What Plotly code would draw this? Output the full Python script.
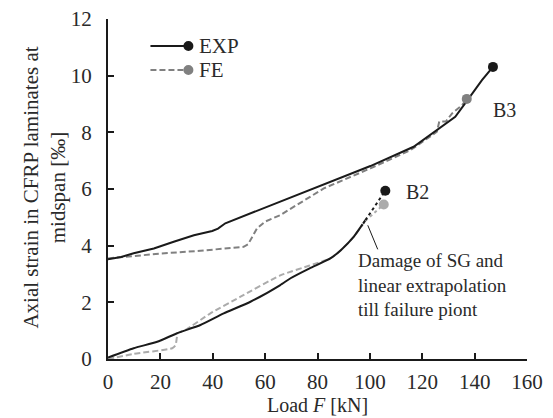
import plotly.graph_objects as go

# ---- data ----
b3_exp_F = [0, 5, 9.8, 17.5, 25.1, 32.8, 39.8, 42, 44.8, 54.4, 65.8, 82.4, 100.2, 116.7, 126.9, 132.6, 137.7, 142.8, 147]
b3_exp_s = [3.52, 3.6, 3.73, 3.90, 4.14, 4.37, 4.52, 4.6, 4.79, 5.14, 5.55, 6.18, 6.81, 7.49, 8.19, 8.55, 9.19, 9.84, 10.31]

b3_fe_F = [0, 9.8, 20, 35.3, 51.8, 53.5, 55, 56.9, 60, 65.8, 82.4, 100.2, 115.5, 125.6, 126.5, 129, 131.4, 135.2, 137]
b3_fe_s = [3.55, 3.64, 3.72, 3.82, 3.96, 4.05, 4.31, 4.61, 4.85, 5.08, 6.02, 6.73, 7.37, 8.02, 8.38, 8.38, 8.67, 8.96, 9.18]

b2_exp_F = [0, 9.8, 18.8, 26.4, 35.3, 44.2, 54.4, 65.8, 69.7, 77, 84.9, 89, 93.8, 98.3]
b2_exp_s = [0.05, 0.38, 0.61, 0.91, 1.20, 1.61, 2.02, 2.61, 2.85, 3.2, 3.55, 3.85, 4.31, 4.90]
b2_exp_ext_F = [98.3, 105.9]
b2_exp_ext_s = [4.90, 5.94]

b2_fe_F = [0, 9.8, 24.5, 25.8, 26.7, 30, 39.1, 50.6, 65.8, 77, 84.9, 89, 93.8, 98.3]
b2_fe_s = [0.0, 0.18, 0.38, 0.49, 0.91, 1.05, 1.61, 2.2, 2.95, 3.3, 3.55, 3.85, 4.31, 4.88]
b2_fe_ext_F = [98.3, 105.3]
b2_fe_ext_s = [4.88, 5.45]

damage_F = [98.3]
damage_s = [4.90]

x_ticks = [0, 20, 40, 60, 80, 100, 120, 140, 160]
y_ticks = [0, 2, 4, 6, 8, 10, 12]

BLACK = "#1a1a1a"
GRAY = "#808080"
LGRAY = "#ababab"
TXT = "#2a2a2a"
FONT = "Liberation Serif, Times New Roman, serif"

# plot-area geometry (pixels)
L, R, T, B = 107.5, 26, 19, 59
W, H = 553, 418
PW, PH = W - L - R, H - T - B


def px2paper_x(px):
    return (px - L) / PW


def px2paper_y(py):
    return (H - B - py) / PH


fig = go.Figure()

# B3
fig.add_trace(go.Scatter(x=b3_fe_F, y=b3_fe_s, mode="lines",
                         line=dict(color=GRAY, width=2, dash="6px,3px")))
fig.add_trace(go.Scatter(x=b3_exp_F, y=b3_exp_s, mode="lines",
                         line=dict(color=BLACK, width=2)))
fig.add_trace(go.Scatter(x=b3_fe_F[-1:], y=b3_fe_s[-1:], mode="markers",
                         marker=dict(color=GRAY, size=10)))
fig.add_trace(go.Scatter(x=b3_exp_F[-1:], y=b3_exp_s[-1:], mode="markers",
                         marker=dict(color=BLACK, size=10)))

# B2
fig.add_trace(go.Scatter(x=b2_fe_F, y=b2_fe_s, mode="lines", line_shape="spline",
                         line=dict(color=LGRAY, width=2, dash="6px,3px", smoothing=0.5)))
fig.add_trace(go.Scatter(x=b2_exp_F, y=b2_exp_s, mode="lines", line_shape="spline",
                         line=dict(color=BLACK, width=2, smoothing=0.5)))
fig.add_trace(go.Scatter(x=b2_fe_ext_F, y=b2_fe_ext_s, mode="lines",
                         line=dict(color=LGRAY, width=2, dash="dot")))
fig.add_trace(go.Scatter(x=b2_exp_ext_F, y=b2_exp_ext_s, mode="lines",
                         line=dict(color=BLACK, width=2, dash="dot")))
fig.add_trace(go.Scatter(x=b2_fe_ext_F[-1:], y=b2_fe_ext_s[-1:], mode="markers",
                         marker=dict(color=LGRAY, size=10)))
fig.add_trace(go.Scatter(x=b2_exp_ext_F[-1:], y=b2_exp_ext_s[-1:], mode="markers",
                         marker=dict(color=BLACK, size=10)))
fig.add_trace(go.Scatter(x=damage_F, y=damage_s, mode="markers",
                         marker=dict(color="white", size=9, symbol="circle-open",
                                     line=dict(color=BLACK, width=1.2))))

# leader line for the damage annotation
fig.add_shape(type="line", x0=99.2, y0=4.72, x1=103.0, y1=3.87,
              line=dict(color=BLACK, width=1))

fig.add_annotation(x=94.6, y=2.62, xanchor="left", yanchor="middle", align="left",
                   text="Damage of SG and<br>linear extrapolation<br>till failure piont",
                   showarrow=False, font=dict(family=FONT, size=19, color=TXT))
fig.add_annotation(x=151.5, y=8.78, text="B3", showarrow=False,
                   font=dict(family=FONT, size=20, color=TXT))
fig.add_annotation(x=118.2, y=5.9, text="B2", showarrow=False,
                   font=dict(family=FONT, size=20, color=TXT))

# manual legend (paper coordinates)
for py, col, dash, label in [(46, BLACK, "solid", "EXP"), (70, GRAY, "6px,3px", "FE")]:
    fig.add_shape(type="line", xref="paper", yref="paper",
                  x0=px2paper_x(150), x1=px2paper_x(187), y0=px2paper_y(py), y1=px2paper_y(py),
                  line=dict(color=col, width=2, dash=dash))
    fig.add_shape(type="circle", xref="paper", yref="paper",
                  xsizemode="pixel", ysizemode="pixel",
                  xanchor=px2paper_x(188), yanchor=px2paper_y(py),
                  x0=-5, x1=5, y0=-5, y1=5,
                  fillcolor=col, line=dict(color=col, width=0))
    fig.add_annotation(xref="paper", yref="paper", x=px2paper_x(197), y=px2paper_y(py),
                       xanchor="left", yanchor="middle", text=label, showarrow=False,
                       font=dict(family=FONT, size=21, color=TXT))

# axis titles
fig.add_annotation(xref="paper", yref="paper", x=px2paper_x(317), y=px2paper_y(418),
                   xanchor="center", yanchor="bottom", text="Load <i>F</i> [kN]",
                   showarrow=False, font=dict(family=FONT, size=20, color=TXT))
fig.add_annotation(xref="paper", yref="paper", x=px2paper_x(43), y=px2paper_y(188),
                   xanchor="center", yanchor="middle", textangle=-90,
                   text="Axial strain in CFRP laminates at<br>midspan [‰]",
                   showarrow=False, font=dict(family=FONT, size=21, color=TXT))

fig.update_layout(
    width=W, height=H,
    margin=dict(l=L, r=R, t=T, b=B),
    paper_bgcolor="white", plot_bgcolor="white",
    showlegend=False,
    font=dict(family=FONT, size=21, color=TXT),
)
fig.update_xaxes(range=[0, 160], tickvals=x_ticks, showgrid=False, zeroline=False,
                 automargin=False,
                 showline=True, linecolor=BLACK, linewidth=2,
                 ticks="inside", ticklen=6, tickwidth=2, tickcolor=BLACK,
                 ticklabelstandoff=3,
                 tickfont=dict(family=FONT, size=21, color=TXT))
fig.update_yaxes(range=[0, 12], tickvals=y_ticks, showgrid=False, zeroline=False,
                 automargin=False,
                 showline=True, linecolor=BLACK, linewidth=2,
                 ticks="inside", ticklen=6, tickwidth=2, tickcolor=BLACK,
                 ticklabelstandoff=10,
                 tickfont=dict(family=FONT, size=21, color=TXT))

fig.write_html("out.html", config={"displayModeBar": False},
               post_script="document.body.style.margin='0';document.body.style.overflow='hidden';")
